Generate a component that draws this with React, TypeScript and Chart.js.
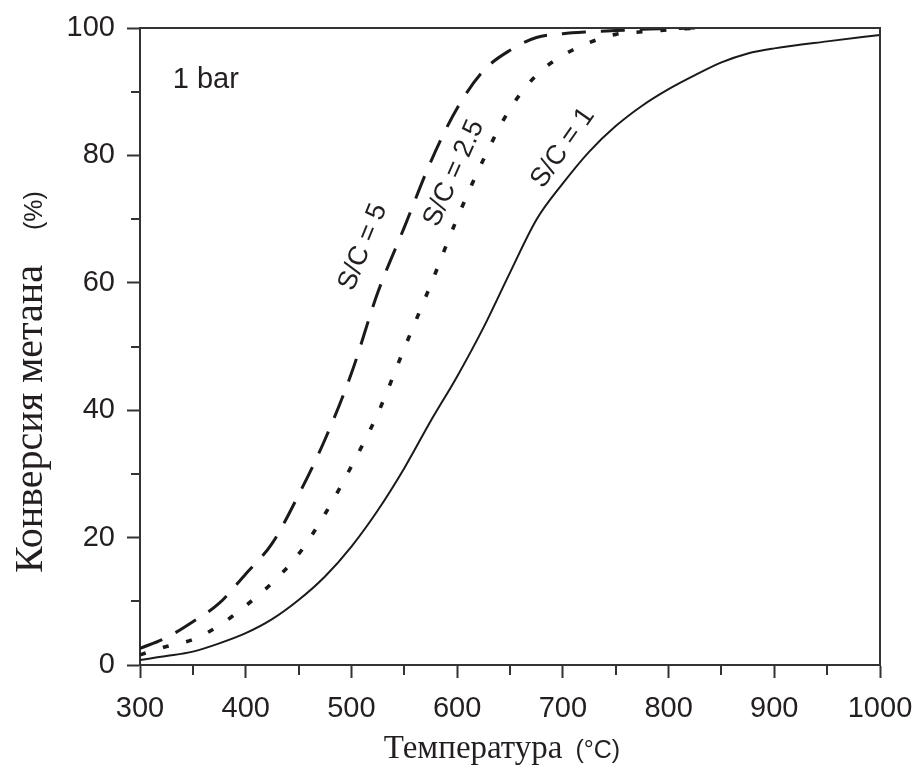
import React, { useEffect, useRef } from "react";
import { Chart, registerables } from "chart.js";

Chart.register(...registerables);

// ---- data ----
const temperaturesSC1 = [300, 325, 350, 375, 400, 425, 450, 475, 500, 525, 550, 575, 600, 625, 650, 675, 700, 725, 750, 775, 800, 825, 850, 875, 900, 950, 1000];
const conversionSC1 = [0.8, 1.4, 2.1, 3.4, 5.0, 7.2, 10.2, 13.9, 18.6, 24.3, 30.9, 38.3, 45.3, 53.0, 61.6, 69.9, 75.6, 80.6, 84.6, 87.8, 90.4, 92.6, 94.6, 96.0, 96.8, 97.9, 98.9];

const temperaturesHigh = [300, 325, 350, 375, 400, 425, 450, 475, 500, 525, 550, 575, 600, 625, 650, 675, 700, 725, 750, 775, 800, 825];
const conversionSC25 = [1.6, 2.9, 4.0, 6.2, 9.3, 12.9, 17.4, 23.7, 31.2, 39.5, 49.7, 59.7, 70.1, 79.4, 87.3, 92.6, 95.7, 97.7, 99.0, 99.4, 99.7, 100];
const conversionSC5 = [2.6, 4.3, 6.8, 9.7, 14.3, 19.1, 26.7, 35.4, 45.8, 58.5, 68.7, 79.0, 87.4, 93.3, 96.5, 98.5, 99.1, 99.4, 99.6, 99.8, 99.9, 100];

const minorTicksX = [350, 450, 550, 650, 750, 850, 950];
const minorTicksY = [10, 30, 50, 70, 90];

const xTitleMain = "Температура";
const xTitleUnit = "(°C)";
const yTitleMain = "Конверсия метана";
const yTitleUnit = "(%)";

// annotation labels: text, T, conversion, rotation (deg)
const curveLabels = [
  { text: "S/C = 5", x: 511, y: 65.6, angle: -68 },
  { text: "S/C = 2.5", x: 597, y: 77.2, angle: -66 },
  { text: "S/C = 1", x: 700, y: 81.2, angle: -55 },
];
const pressureLabel = { text: "1 bar", x: 331, y: 90.6 };

const SANS = '"Liberation Sans", Arial, Helvetica, sans-serif';
const SERIF = '"Liberation Serif", "Times New Roman", serif';
const AXIS = "#333333";
const TEXT = "#231f20";
const LINE = "#1a1a1a";

const toPoints = (xs: number[], ys: number[]) => xs.map((x, i) => ({ x, y: ys[i] }));

const decorPlugin = {
  id: "decor",
  afterDraw(chart: any) {
    const { ctx, chartArea: a, scales } = chart;
    const xs = scales.x;
    const ys = scales.y;
    ctx.save();
    // frame top & right
    ctx.strokeStyle = AXIS;
    ctx.lineWidth = 2;
    ctx.beginPath();
    ctx.moveTo(a.left, a.top);
    ctx.lineTo(a.right, a.top);
    ctx.lineTo(a.right, a.bottom);
    ctx.stroke();
    // minor ticks
    ctx.beginPath();
    for (const v of minorTicksX) {
      const px = Math.round(xs.getPixelForValue(v));
      ctx.moveTo(px, a.bottom);
      ctx.lineTo(px, a.bottom + 10);
    }
    for (const v of minorTicksY) {
      const py = Math.round(ys.getPixelForValue(v));
      ctx.moveTo(a.left - 9, py);
      ctx.lineTo(a.left, py);
    }
    ctx.stroke();

    ctx.fillStyle = TEXT;
    // pressure label
    ctx.font = `29px ${SANS}`;
    ctx.textAlign = "left";
    ctx.textBaseline = "alphabetic";
    ctx.fillText(pressureLabel.text, xs.getPixelForValue(pressureLabel.x), ys.getPixelForValue(pressureLabel.y));

    // curve labels
    ctx.font = `27px ${SANS}`;
    ctx.textAlign = "center";
    ctx.textBaseline = "middle";
    for (const l of curveLabels) {
      ctx.save();
      ctx.translate(xs.getPixelForValue(l.x), ys.getPixelForValue(l.y));
      ctx.rotate((l.angle * Math.PI) / 180);
      ctx.fillText(l.text, 0, 0);
      ctx.restore();
    }

    // x title
    ctx.textAlign = "left";
    ctx.textBaseline = "alphabetic";
    ctx.font = `33px ${SERIF}`;
    const w1 = ctx.measureText(xTitleMain).width;
    ctx.font = `25px ${SANS}`;
    const w2 = ctx.measureText(xTitleUnit).width;
    const gap = 13;
    const cx = (a.left + a.right) / 2 - 8;
    const startX = cx - (w1 + gap + w2) / 2;
    const baseY = a.bottom + 93;
    ctx.font = `33px ${SERIF}`;
    ctx.fillText(xTitleMain, startX, baseY);
    ctx.font = `25px ${SANS}`;
    ctx.fillText(xTitleUnit, startX + w1 + gap, baseY);

    // y title (rotated)
    ctx.save();
    ctx.translate(34, 565);
    ctx.rotate(-Math.PI / 2);
    ctx.font = `40px ${SERIF}`;
    const wy = ctx.measureText(yTitleMain).width;
    ctx.fillText(yTitleMain, 0, 0);
    ctx.font = `25px ${SANS}`;
    ctx.fillText(yTitleUnit, wy + 35, 0);
    ctx.restore();

    ctx.restore();
  },
};

export default function App() {
  const canvasRef = useRef<HTMLCanvasElement | null>(null);

  useEffect(() => {
    if (!canvasRef.current) return;
    const chart = new Chart(canvasRef.current, {
      type: "line",
      data: {
        datasets: [
          {
            label: "S/C = 1",
            data: toPoints(temperaturesSC1, conversionSC1),
            borderColor: LINE,
            borderWidth: 2,
            pointRadius: 0,
            cubicInterpolationMode: "monotone",
            fill: false,
          },
          {
            label: "S/C = 2.5",
            data: toPoints(temperaturesHigh, conversionSC25),
            borderColor: LINE,
            borderWidth: 3.6,
            borderDash: [6, 18],
            pointRadius: 0,
            cubicInterpolationMode: "monotone",
            fill: false,
          },
          {
            label: "S/C = 5",
            data: toPoints(temperaturesHigh, conversionSC5),
            borderColor: LINE,
            borderWidth: 3,
            borderDash: [24, 15],
            pointRadius: 0,
            cubicInterpolationMode: "monotone",
            fill: false,
          },
        ],
      },
      options: {
        animation: false,
        responsive: true,
        maintainAspectRatio: false,
        layout: { padding: { left: 0, top: 20, right: 34, bottom: 0 } },
        plugins: {
          legend: { display: false },
          tooltip: { enabled: false },
        },
        scales: {
          x: {
            type: "linear",
            min: 300,
            max: 1000,
            afterFit: (s: any) => {
              s.height = 103;
              s.paddingLeft = 0;
              s.paddingRight = 0;
            },
            ticks: {
              stepSize: 100,
              color: TEXT,
              font: { family: SANS, size: 29 },
              padding: 14,
              maxRotation: 0,
              callback: (v: any) => String(v),
            },
            grid: {
              drawOnChartArea: false,
              drawTicks: true,
              tickLength: 13,
              tickWidth: 2,
              tickColor: AXIS,
            },
            border: { display: true, color: AXIS, width: 2 },
          },
          y: {
            type: "linear",
            min: 0,
            max: 100,
            afterFit: (s: any) => {
              s.width = 132;
              s.paddingTop = 0;
              s.paddingBottom = 0;
            },
            ticks: {
              stepSize: 20,
              color: TEXT,
              font: { family: SANS, size: 29 },
              padding: 12,
              callback: (v: any) => String(v),
            },
            grid: {
              drawOnChartArea: false,
              drawTicks: true,
              tickLength: 13,
              tickWidth: 2,
              tickColor: AXIS,
            },
            border: { display: true, color: AXIS, width: 2 },
          },
        },
      },
      plugins: [decorPlugin],
    });
    return () => chart.destroy();
  }, []);

  return (
    <div style={{ width: 906, height: 760, position: "relative", background: "#fff" }}>
      <canvas ref={canvasRef} />
    </div>
  );
}
